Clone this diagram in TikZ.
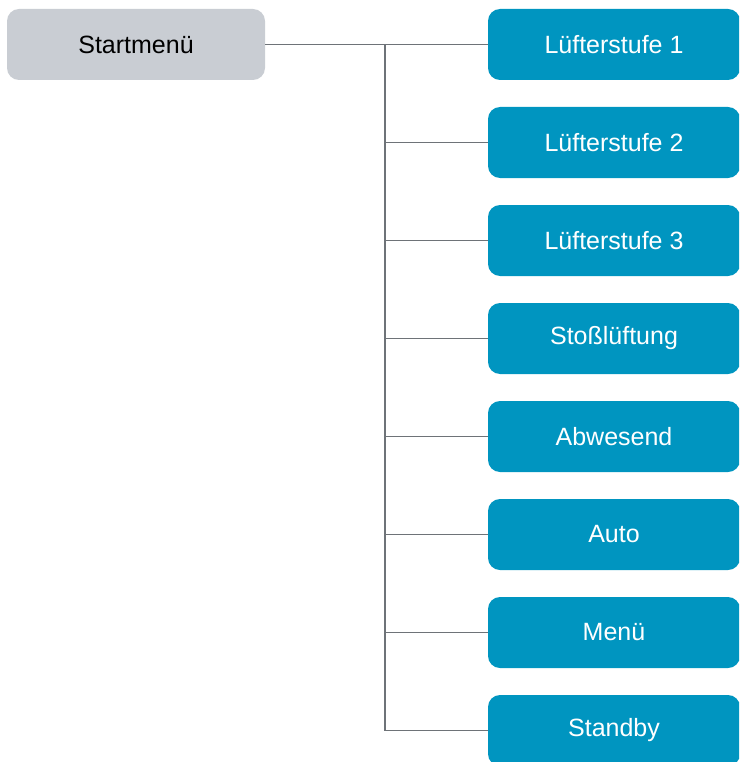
\documentclass[tikz,border=0pt]{standalone}
\usepackage{fontspec}
\setmainfont{Liberation Sans}
\definecolor{boxblue}{HTML}{0095C0}
\definecolor{boxgrey}{HTML}{C9CDD3}
\definecolor{linegrey}{HTML}{6E7378}
\begin{document}
\begin{tikzpicture}[x=1pt,y=-1pt,
  base/.style={rounded corners=12pt, minimum height=71pt, inner sep=0pt,
    font=\fontsize{25}{29}\selectfont, anchor=center},
  startbox/.style={base, fill=boxgrey, text=black, minimum width=258pt},
  itembox/.style={base, fill=boxblue, text=white, minimum width=252pt},
  conn/.style={draw=linegrey, line width=1.3pt}]
\useasboundingbox (0,0) rectangle (739,762);
\clip (0,0) rectangle (739,762);
\node[startbox] (start) at (136,44.5) {Startmenü};
\coordinate (j0) at (385,44.5);
\foreach \i/\t in {1/Lüfterstufe 1,2/Lüfterstufe 2,3/Lüfterstufe 3,4/Stoßlüftung,5/Abwesend,6/Auto,7/Menü,8/Standby}{
  \node[itembox] (b\i) at (614,{44.5+98*(\i-1)}) {\t};
  \coordinate (j\i) at (385,{44.5+98*(\i-1)});
}
\draw[conn] (start.east) -- (b1.west);
\draw[conn] (j1) -- (j8);
\foreach \i in {2,...,8}{
  \draw[conn] (j\i) -- (b\i.west);
}
\end{tikzpicture}
\end{document}
